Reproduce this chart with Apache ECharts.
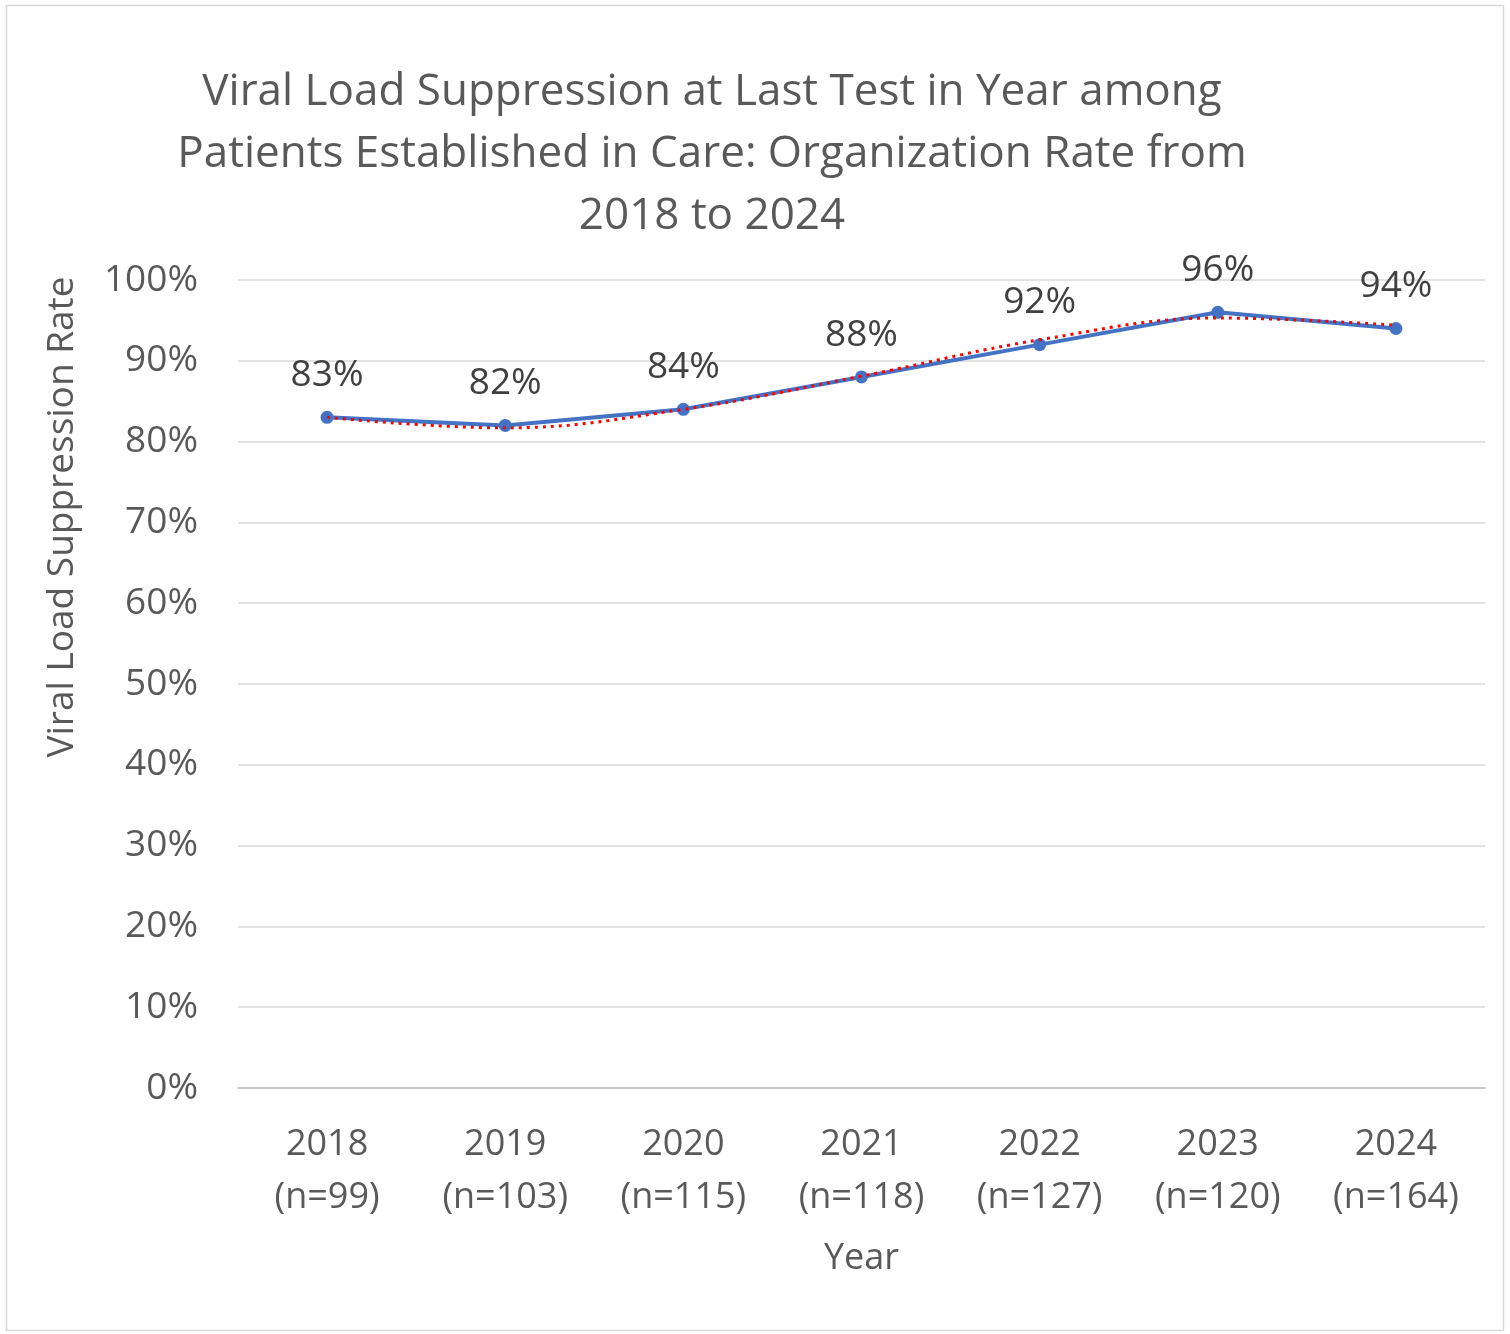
<!DOCTYPE html>
<html>
<head>
<meta charset="utf-8">
<script src="https://cdn.jsdelivr.net/npm/echarts@6/dist/echarts.min.js"></script>
<style>
html,body{margin:0;padding:0;background:#fff;}
#chart{width:1510px;height:1334px;}
</style>
</head>
<body>
<div id="chart"></div>
<script>
const years = ['2018', '2019', '2020', '2021', '2022', '2023', '2024'];
const sampleSizes = [99, 103, 115, 118, 127, 120, 164];
const suppressionRate = [83, 82, 84, 88, 92, 96, 94];
const trendValues = [83.0, 81.7, 84.0, 88.1, 92.6, 95.3, 94.4];
const yTicks = [0, 10, 20, 30, 40, 50, 60, 70, 80, 90, 100];

const categories = years.map((y, i) => y + '\n(n=' + sampleSizes[i] + ')');
const font = '"Open Sans", "Noto Sans", sans-serif';

const chart = echarts.init(document.getElementById('chart'));
chart.setOption({
  backgroundColor: '#fff',
  animation: false,
  graphic: [{
    type: 'rect',
    shape: {x: 6.5, y: 5.5, width: 1497, height: 1325},
    style: {fill: 'none', stroke: '#d9d9d9', lineWidth: 1.5},
    silent: true
  }],
  title: {
    text: 'Viral Load Suppression at Last Test in Year among\nPatients Established in Care: Organization Rate from\n2018 to 2024',
    left: 707,
    top: 56,
    textAlign: 'center',
    textStyle: {
      fontFamily: font,
      fontSize: 44,
      fontWeight: 'normal',
      color: '#595959',
      lineHeight: 62
    }
  },
  grid: {left: 238, right: 25, top: 280, bottom: 246, containLabel: false},
  xAxis: {
    type: 'category',
    data: categories,
    boundaryGap: true,
    name: 'Year',
    nameLocation: 'middle',
    nameGap: 153,
    nameTextStyle: {fontFamily: font, fontSize: 36, color: '#595959'},
    axisLine: {show: true, lineStyle: {color: '#bfbfbf', width: 1.5}},
    axisTick: {show: false},
    axisLabel: {
      fontFamily: font, fontSize: 36, color: '#595959',
      lineHeight: 53, margin: 30, interval: 0
    }
  },
  yAxis: {
    type: 'value',
    min: 0, max: 100, interval: 10,
    name: 'Viral Load Suppression Rate',
    nameLocation: 'middle',
    nameGap: 157,
    nameRotate: 90,
    nameTextStyle: {fontFamily: font, fontSize: 37, color: '#595959', padding: [0, 0, 0, 334]},
    axisLine: {show: false},
    axisTick: {show: false},
    axisLabel: {
      fontFamily: font, fontSize: 37, color: '#595959', margin: 40,
      formatter: v => yTicks.includes(v) ? v + '%' : ''
    },
    splitLine: {lineStyle: {color: '#d9d9d9', width: 1.5}}
  },
  series: [
    {
      name: 'Organization Rate',
      type: 'line',
      data: suppressionRate,
      symbol: 'circle',
      symbolSize: 13,
      z: 3,
      lineStyle: {color: '#4472c4', width: 4},
      itemStyle: {color: '#4472c4'},
      label: {
        show: true,
        position: 'top',
        distance: 17,
        formatter: p => p.value + '%',
        fontFamily: font,
        fontSize: 37,
        color: '#404040'
      }
    },
    {
      name: 'Trend',
      type: 'line',
      data: trendValues,
      smooth: 0.4,
      symbol: 'none',
      z: 4,
      lineStyle: {color: '#ff0000', width: 3, type: [3, 5]}
    }
  ]
});
</script>
</body>
</html>
